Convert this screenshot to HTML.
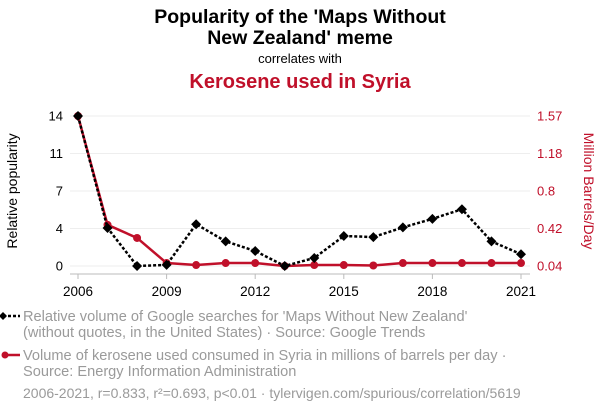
<!DOCTYPE html>
<html><head><meta charset="utf-8"><style>
body{margin:0;width:600px;height:414px;background:#fff;font-family:"Liberation Sans",sans-serif;overflow:hidden}
svg{display:block}
</style></head><body>
<svg id="c" width="600" height="414">
<text x="300" y="23" text-anchor="middle" font-size="19.5" font-weight="bold" fill="#000">Popularity of the 'Maps Without</text>
<text x="300" y="44" text-anchor="middle" font-size="19.5" font-weight="bold" fill="#000">New Zealand' meme</text>
<text x="300" y="63" text-anchor="middle" font-size="13" fill="#000">correlates with</text>
<text x="300" y="88" text-anchor="middle" font-size="20" font-weight="bold" fill="#c0102a">Kerosene used in Syria</text>
<text transform="translate(17,191) rotate(-90)" text-anchor="middle" font-size="14" fill="#000">Relative popularity</text>
<text transform="translate(584,191) rotate(90)" text-anchor="middle" font-size="14" fill="#c0102a">Million Barrels/Day</text>
<g id="grid"></g><g id="axes"></g><g id="marks"></g>
<g>
<line x1="3" y1="316" x2="20" y2="316" stroke="#000" stroke-width="2.5" stroke-dasharray="3,2"/>
<path d="M3 312 L7 316 L3 320 L-1 316Z" fill="#000"/>
<text x="23" y="321" font-size="14.6" fill="#9a9a9a">Relative volume of Google searches for 'Maps Without New Zealand'</text>
<text x="23" y="337" font-size="14.6" fill="#9a9a9a">(without quotes, in the United States) · Source: Google Trends</text>
</g>
<g>
<line x1="3" y1="355" x2="20" y2="355" stroke="#c0102a" stroke-width="2.5"/>
<circle cx="5" cy="355" r="3.5" fill="#c0102a"/>
<text x="23" y="360" font-size="14.6" fill="#9a9a9a">Volume of kerosene used consumed in Syria in millions of barrels per day ·</text>
<text x="23" y="376" font-size="14.6" fill="#9a9a9a">Source: Energy Information Administration</text>
</g>
<text x="23" y="398" font-size="14" fill="#9a9a9a">2006-2021, r=0.833, r²=0.693, p&lt;0.01 · tylervigen.com/spurious/correlation/5619</text>
</svg>
<script>
const years=[2006,2007,2008,2009,2010,2011,2012,2013,2014,2015,2016,2017,2018,2019,2020,2021];
const meme=[14,3.55,0,0.1,3.9,2.3,1.4,0,0.75,2.8,2.7,3.6,4.4,5.3,2.3,1.1];
const kerosene=[1.57,0.46,0.326,0.07,0.05,0.07,0.07,0.04,0.05,0.05,0.045,0.07,0.07,0.07,0.07,0.07];
const leftTicks=[0,3.5,7,10.5,14];
const leftLabels=["0","4","7","11","14"];
const rightTicks=[0.04,0.4225,0.805,1.1875,1.57];
const rightLabels=["0.04","0.42","0.8","1.18","1.57"];
const xTicks=[2006,2009,2012,2015,2018,2021];
const NS="http://www.w3.org/2000/svg";
const X=y=>78+(y-2006)*(521-78)/15;
const YL=v=>266-v*150/14;
const YR=v=>266-(v-0.04)*150/1.53;
function mk(t,a,p){const e=document.createElementNS(NS,t);for(const k in a)e.setAttribute(k,a[k]);p.appendChild(e);return e;}
const grid=document.getElementById('grid'),axes=document.getElementById('axes'),marks=document.getElementById('marks');
leftTicks.forEach((v,i)=>{
 const g=mk('line',{x1:70,x2:530,y1:YL(v),y2:YL(v),stroke:'#eee','stroke-width':1},grid);
 
 
 const t=mk('text',{x:63,y:YL(v)+4.5,'text-anchor':'end','font-size':13,fill:'#000'},axes);t.textContent=leftLabels[i];
 
 
});
rightTicks.forEach((v,i)=>{
 const t=mk('text',{x:537,y:YR(v)+4.5,'font-size':13,fill:'#c0102a'},axes);t.textContent=rightLabels[i];
 
 
});
const ax=mk('line',{x1:70,x2:530,y1:274,y2:274,stroke:'#bbb','stroke-width':1},axes);


xTicks.forEach(y=>{
 mk('line',{x1:X(y),x2:X(y),y1:274,y2:279,stroke:'#bbb'},axes);
 const t=mk('text',{x:X(y),y:296,'text-anchor':'middle','font-size':13.5,fill:'#000'},axes);t.textContent=y;
 
 
});
const rl=mk('polyline',{points:years.map((y,i)=>X(y)+','+YR(kerosene[i])).join(' '),fill:'none',stroke:'#c0102a','stroke-width':2.5},marks);


years.forEach((y,i)=>{const c=mk('circle',{cx:X(y),cy:YR(kerosene[i]),r:4,fill:'#c0102a'},marks);
 
 });
const bl=mk('polyline',{points:years.map((y,i)=>X(y)+','+YL(meme[i])).join(' '),fill:'none',stroke:'#000','stroke-width':2.5,'stroke-dasharray':'3,2'},marks);


years.forEach((y,i)=>{const x=X(y),yy=YL(meme[i]);const d=mk('path',{d:`M${x} ${yy-5}L${x+5} ${yy}L${x} ${yy+5}L${x-5} ${yy}Z`,fill:'#000'},marks);
 
 });
</script>
</body></html>
